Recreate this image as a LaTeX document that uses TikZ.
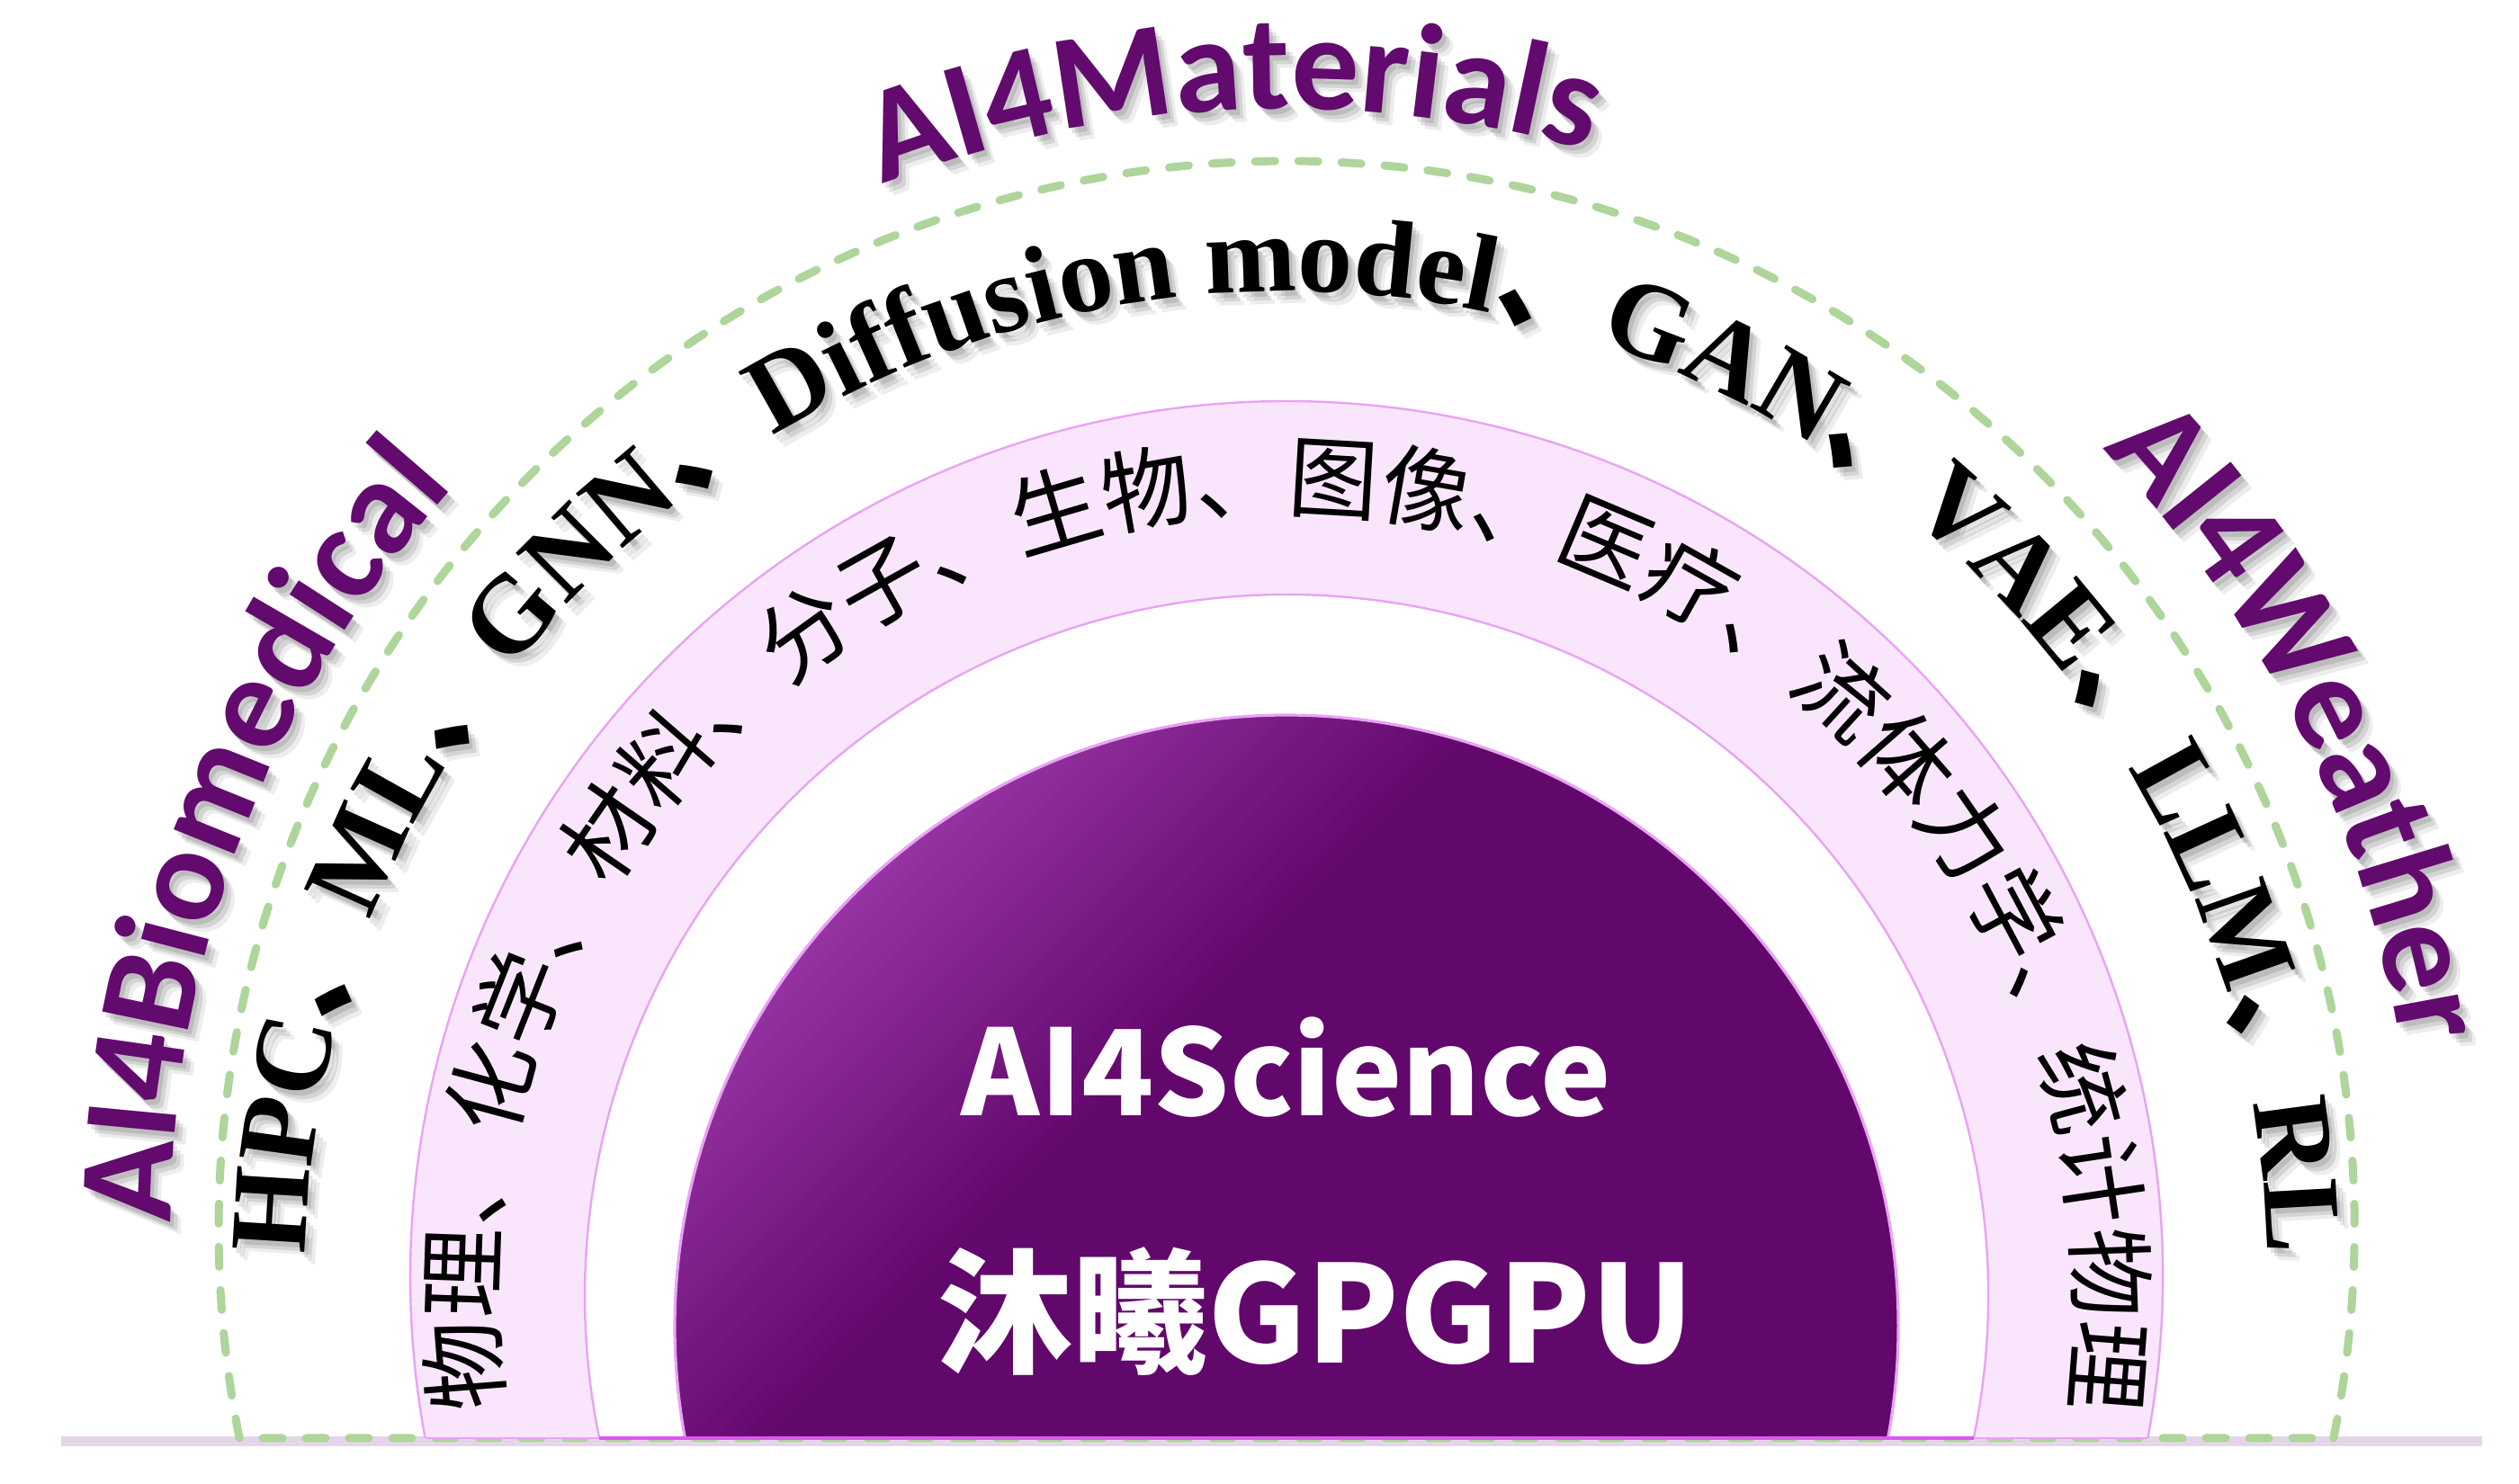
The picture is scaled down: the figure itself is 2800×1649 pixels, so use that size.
\documentclass[tikz,border=0pt]{standalone}
\usepackage{fontspec}
\usetikzlibrary{decorations.text}
\newfontfamily\cjkfam{Noto Sans CJK SC}
\newfontfamily\tnrfam{Liberation Serif}
\newfontfamily\calfam{Carlito}
\definecolor{darkp}{HTML}{62076C}
\definecolor{lightp}{HTML}{B048BE}
\definecolor{labelp}{HTML}{620A6E}
\definecolor{ringfill}{HTML}{F9E6FC}
\definecolor{ringline}{HTML}{E9A3F5}
\definecolor{magline}{HTML}{DF55F2}
\definecolor{basep}{HTML}{E4D6E8}
\definecolor{dashg}{HTML}{AED59A}
\newcommand\FIn{\cjkfam\fontsize{25pt}{26pt}\selectfont}
\newcommand\FMs{\tnrfam\bfseries\fontsize{30.5pt}{31pt}\selectfont}
\newcommand\FMc{\cjkfam\bfseries\fontsize{30.5pt}{31pt}\selectfont}
\newcommand\FLab{\calfam\bfseries\fontsize{37.5pt}{38pt}\selectfont}
% #1 centre, #2 radius, #3 start angle, #4 end angle, #5 text, #6 colour
\newcommand\arctext[6]{%
  \path[decorate, decoration={text along path, text align=center, text color=#6, text={#5}}]
    (#1) ++(#3:#2) arc[start angle=#3, end angle=#4, radius=#2];}
\newcommand\arctextshadow[6]{%
  \foreach \dx/\dy/\op in {4/-6/0.11,8/-10/0.10,12/-14/0.07}{%
    \begin{scope}[shift={(\dx,\dy)}, opacity=\op]
      \arctext{#1}{#2}{#3}{#4}{#5}{black}
    \end{scope}}%
  \arctext{#1}{#2}{#3}{#4}{#5}{#6}}
\tikzset{
  baseline line/.style={basep, line width=2.75pt},
  dashring/.style={dashg, line width=2.25pt, dash pattern=on 5.5pt off 6.5pt, line cap=round},
  ringedge/.style={ringline, line width=0.6pt},
}
\begin{document}
\begin{tikzpicture}[x=0.25pt, y=0.25pt]
\useasboundingbox (-1430,-49) rectangle (1370,1600);
\fill[white] (-1430,-49) rectangle (1370,1600);
% base line
\coordinate (bl) at (-1362,-2);
\coordinate (br) at (1329,-2);
\draw[baseline line] (bl) -- (br);
% green dashed semicircle
\draw[dashring] (0,234) ++(-11.32:1187) arc[start angle=-11.32, end angle=191.32, radius=1187] -- cycle;
% pink ring
\fill[ringfill] (0,180) ++(-10.59:974) arc[start angle=-10.59, end angle=190.59, radius=974] -- cycle;
\draw[ringedge] (0,180) ++(-10.59:974) arc[start angle=-10.59, end angle=190.59, radius=974];
\draw[ringedge] (-957,1) -- (957,1);
\fill[white] (0,159) ++(-11.69:780) arc[start angle=-11.69, end angle=191.69, radius=780] -- cycle;
\draw[ringedge] (0,159) ++(-11.69:780) arc[start angle=-11.69, end angle=191.69, radius=780];
% dark dome with gradient
\begin{scope}
  \clip (0,125) ++(-10.51:680) arc[start angle=-10.51, end angle=190.51, radius=680] -- cycle;
  \fill[darkp] (-700,0) rectangle (700,810);
  \begin{scope}[rotate around={-45:(-659,529)}]
    \fill[lightp] (-1859,-671) rectangle (-759,1729);
    \foreach \i in {0,...,54}{
      \pgfmathtruncatemacro\p{100-\i*100/54}
      \fill[lightp!\p!darkp] ({-759+\i*10},-671) rectangle ++(10.6,2400);
    }
  \end{scope}
\end{scope}
\draw[ringedge, line width=0.8pt] (0,125) ++(-10.51:680) arc[start angle=-10.51, end angle=190.51, radius=680];
\draw[magline, line width=1.1pt] (-764,1) -- (764,1);
% inner ring text
\arctext{0,153}{879}{200}{-20}{|\FIn|物理、化学、材料、分子、生物、图像、医疗、流体力学、统计物理}{black}
% middle text
\arctextshadow{0,186}{1090}{190}{-10}{|\FMs|HPC|\FMc|、|\FMs|ML|\FMc|、|\FMs|GNN|\FMc|、|\FMs|Diffusion model|\FMc|、|\FMs|GAN|\FMc|、|\FMs|VAE|\FMc|、|\FMs|LLM|\FMc|、|\FMs|RL}{black}
% outer labels
\arctextshadow{0,234}{1245}{122.75}{62.75}{|\FLab|AI4Materials}{labelp}
\arctextshadow{0,234}{1240}{189}{129}{|\FLab|AI4Biomedical}{labelp}
\arctextshadow{0,234}{1255}{56.5}{-3.5}{|\FLab|AI4Weather}{labelp}
% centre text
\node[anchor=base, text=white, font=\cjkfam\bfseries\fontsize{33pt}{35pt}\selectfont] (sci) at (0,360) {AI4Science};
\node[anchor=base, text=white, font=\cjkfam\bfseries\fontsize{37.5pt}{39pt}\selectfont] (gpu) at (33,85) {沐曦GPGPU};
\end{tikzpicture}
\end{document}
